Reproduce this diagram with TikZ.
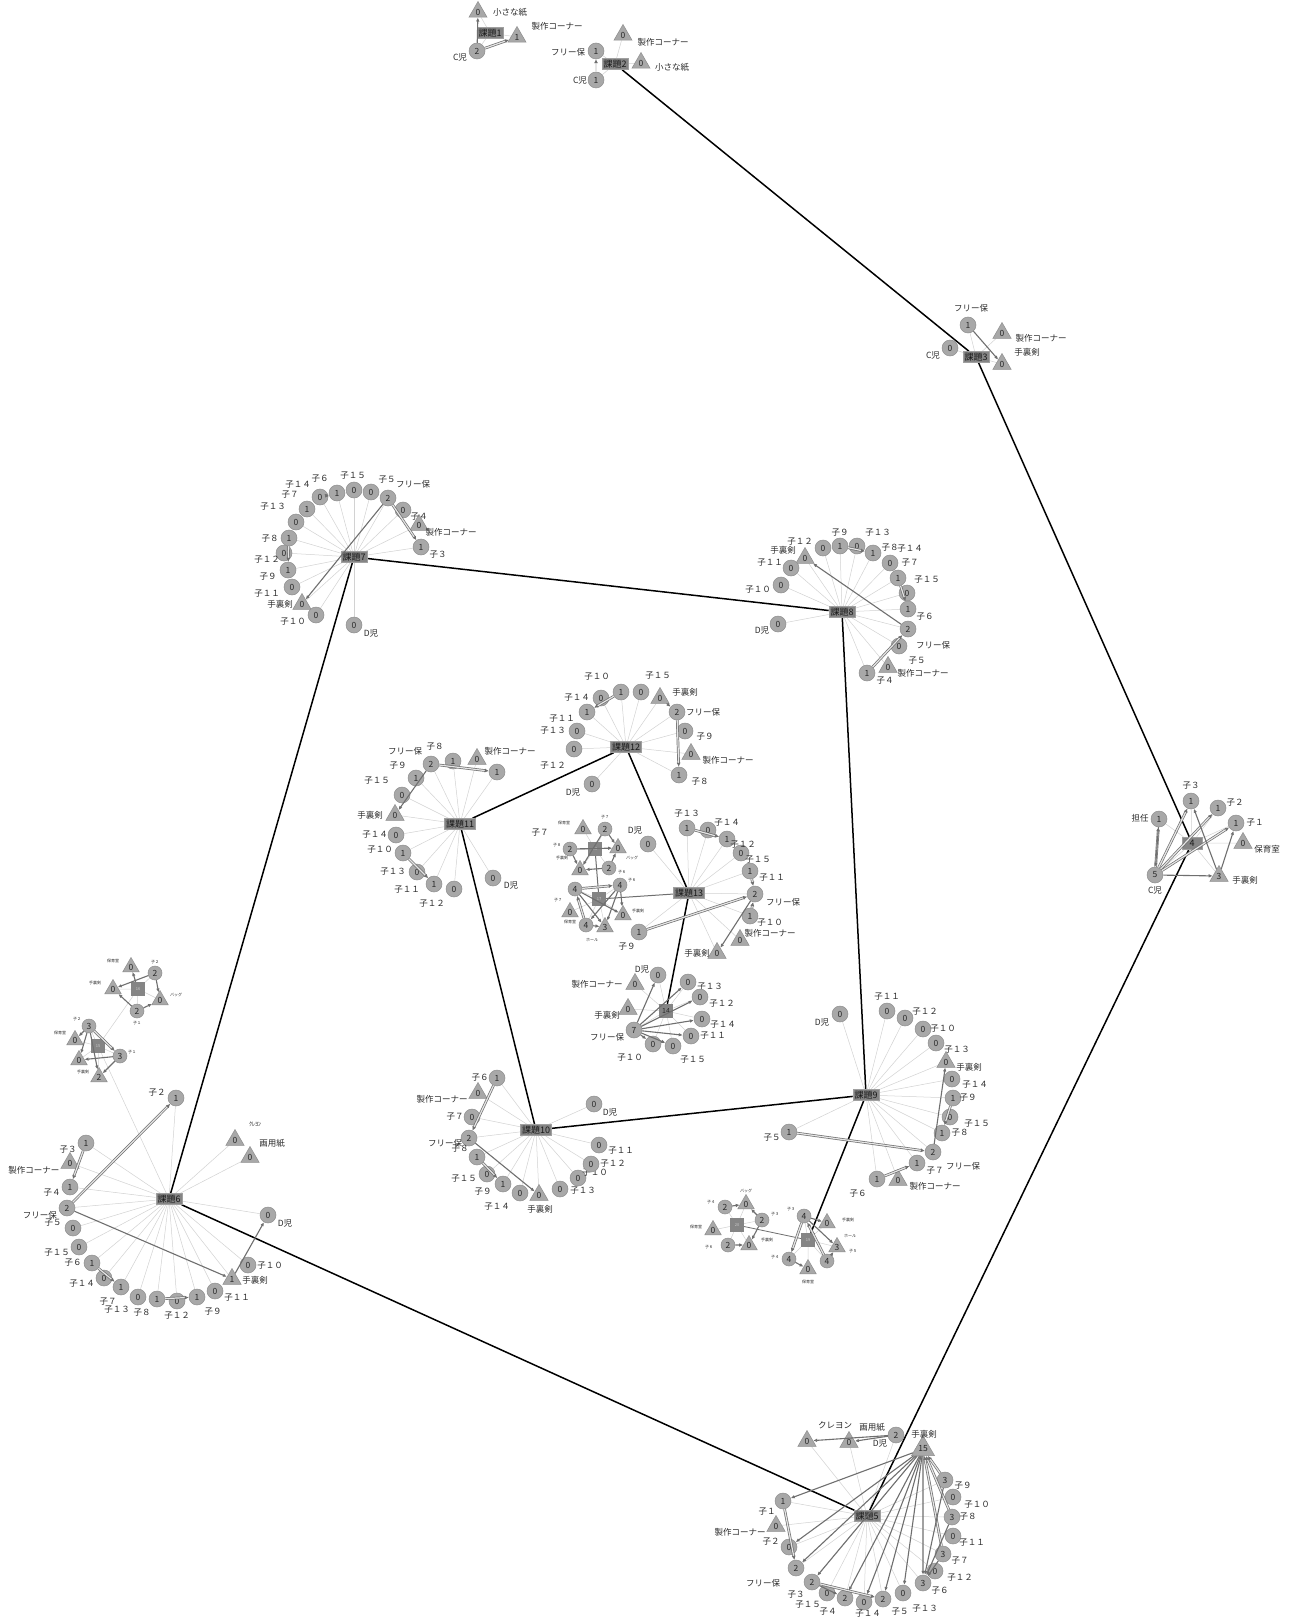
\documentclass[tikz,border=0pt]{standalone}
\usepackage{fontspec}
\setmainfont{Noto Sans CJK JP}
\usetikzlibrary{shapes.geometric,arrows.meta,backgrounds}
\definecolor{nfill}{HTML}{A8A8A8}
\definecolor{ndraw}{HTML}{8E8E8E}
\definecolor{tfill}{HTML}{858585}
\definecolor{tdraw}{HTML}{A0A0A0}
\definecolor{ltc}{HTML}{D2D2D2}
\definecolor{arc}{HTML}{6F6F6F}
\definecolor{txt}{HTML}{2A2A2A}
\tikzset{
 cn/.style={circle, fill=nfill, draw=ndraw, line width=0.5pt, minimum size=16pt, inner sep=0pt, font=\fontsize{8.5}{9}\selectfont, text=txt},
 tn/.style={regular polygon, regular polygon sides=3, fill=nfill, draw=ndraw, line width=0.5pt, minimum size=21pt, inner sep=0pt, font=\fontsize{8.5}{9}\selectfont, text=txt},
 lb/.style={inner sep=0pt, font=\fontsize{8.5}{9}\selectfont, text=txt},
 tl/.style={inner sep=0pt, font=\fontsize{4}{4}\selectfont, text=txt},
 task/.style={rectangle, fill=tfill, draw=tdraw, line width=0.6pt, inner xsep=1.5pt, inner ysep=1.5pt, font=\fontsize{9}{9.5}\selectfont, text=black!90},
 mrect/.style={rectangle, fill=tfill, minimum size=14pt, inner sep=0pt, font=\fontsize{4}{4}\selectfont, text=gray!40},
 lt/.style={draw=ltc, line width=0.5pt},
 ar/.style={draw=arc, line width=1.1pt, -{Latex[length=4pt,width=3.5pt]}},
 db/.style={draw=arc, line width=0.7pt, double=gray!20, double distance=1.2pt, -{Latex[length=4pt,width=4pt]}},
 conn/.style={draw=black, line width=1.5pt},
}
\newcommand\ndC[5]{\node[cn] (#1) at (#2) {#3}; \node[lb] (#1l) at (#4) {#5};}
\newcommand\ndT[5]{\node[tn] (#1) at (#2) {#3}; \node[lb] (#1l) at (#4) {#5};}
\newcommand\ndCs[5]{\node[cn, minimum size=14pt] (#1) at (#2) {#3}; \node[tl] (#1l) at (#4) {#5};}
\newcommand\ndTs[5]{\node[tn, minimum size=19pt] (#1) at (#2) {#3}; \node[tl] (#1l) at (#4) {#5};}
\begin{document}
\begin{tikzpicture}[x=1pt,y=-1pt]
\path[use as bounding box] (0,0) rectangle (1297,1621);

% ---------- cluster 1
\node[task] (t1) at (490,33) {課題1};
\ndT{a1}{478,12}{0}{510,12}{小さな紙}
\ndC{a2}{477,51}{2}{460,57}{C児}
\ndT{a3}{517,37}{1}{557,26}{製作コーナー}
% ---------- cluster 2
\node[task] (t2) at (615,64) {課題2};
\ndC{b1}{596,51}{1}{568,52}{フリー保}
\ndC{b2}{596,80}{1}{580,80}{C児}
\ndT{b3}{623,35}{0}{663,42}{製作コーナー}
\ndT{b4}{641,63}{0}{672,67}{小さな紙}
% ---------- cluster 3
\node[task] (t3) at (976,357) {課題3};
\ndC{c1}{968,325}{1}{971,308}{フリー保}
\ndC{c2}{950,348}{0}{933,355}{C児}
\ndT{c3}{1002,333}{0}{1041,338}{製作コーナー}
\ndT{c4}{1002,364}{0}{1027,352}{手裏剣}
% ---------- cluster 4
\node[task, minimum width=20pt, minimum height=12pt] (t4) at (1192,843) {4};
\ndC{d1}{1191,801}{1}{1191,786}{子３}
\ndC{d2}{1218,808}{1}{1235,803}{子２}
\ndC{d3}{1236,823}{1}{1255,823}{子１}
\ndC{d4}{1159,819}{1}{1140,818}{担任}
\ndT{d5}{1243,843}{0}{1267,849}{保育室}
\ndC{d6}{1155,875}{5}{1155,890}{C児}
\ndT{d7}{1219,876}{3}{1245,880}{手裏剣}
% ---------- cluster 5
\node[task] (t5) at (867,1516) {課題5};
\ndT{e1}{807,1441}{0}{835,1425}{クレヨン}
\ndT{e2}{849,1442}{0}{872,1427}{画用紙}
\ndC{e3}{896,1435}{2}{880,1443}{D児}
\ndT{e4}{923,1449}{15}{924,1434}{手裏剣}
\ndC{e5}{783,1501}{1}{767,1512}{子１}
\ndT{e6}{776,1526}{0}{740,1532}{製作コーナー}
\ndC{e7}{789,1547}{0}{771,1542}{子２}
\ndC{e8}{796,1568}{2}{763,1583}{フリー保}
\ndC{e9}{812,1582}{2}{796,1595}{子３}
\ndC{e10}{827,1593}{0}{808,1605}{子１５}
\ndC{e11}{845,1598}{2}{828,1612}{子４}
\ndC{e12}{864,1602}{0}{868,1614}{子１４}
\ndC{e13}{883,1599}{2}{900,1612}{子５}
\ndC{e14}{903,1593}{0}{925,1609}{子１３}
\ndC{e15}{923,1583}{3}{940,1591}{子６}
\ndC{e16}{935,1571}{0}{960,1578}{子１２}
\ndC{e17}{943,1554}{3}{960,1561}{子７}
\ndC{e18}{953,1536}{0}{972,1543}{子１１}
\ndC{e19}{952,1517}{3}{968,1517}{子８}
\ndC{e20}{953,1497}{0}{977,1505}{子１０}
\ndC{e21}{945,1480}{3}{963,1486}{子９}
% ---------- cluster 6
\node[task] (t6) at (169,1199) {課題6};
\ndC{f1}{176,1098}{1}{157,1093}{子２}
\node[tn] (f2) at (235,1140) {0}; \node[tl, font=\fontsize{6}{6}\selectfont] (f2l) at (255,1124) {ｸﾚﾖﾝ};
\ndT{f3}{250,1157}{0}{272,1143}{画用紙}
\ndC{f4}{86,1143}{1}{68,1150}{子３}
\ndT{f5}{70,1163}{0}{34,1170}{製作コーナー}
\ndC{f6}{70,1187}{1}{52,1193}{子４}
\ndC{f7}{67,1208}{2}{40,1215}{フリー保}
\ndC{f8}{73,1228}{0}{53,1223}{子５}
\ndC{f9}{79,1247}{0}{57,1253}{子１５}
\ndC{f10}{92,1263}{1}{73,1263}{子６}
\ndC{f11}{104,1278}{0}{82,1284}{子１４}
\ndC{f12}{121,1287}{1}{108,1302}{子７}
\ndC{f13}{138,1297}{0}{117,1310}{子１３}
\ndC{f14}{157,1299}{1}{142,1313}{子８}
\ndC{f15}{177,1301}{0}{177,1316}{子１２}
\ndC{f16}{197,1297}{1}{213,1312}{子９}
\ndC{f17}{215,1291}{0}{237,1298}{子１１}
\ndT{f18}{232,1279}{1}{255,1280}{手裏剣}
\ndC{f19}{248,1265}{0}{270,1266}{子１０}
\ndC{f20}{268,1215}{0}{285,1223}{D児}
% ---------- mini graphs 16 / 15
\node[mrect] (g16) at (138,989) {16};
\ndTs{h1}{131,967}{0}{113,961}{保育室}
\ndCs{h2}{155,973}{2}{155,962}{子２}
\ndTs{h3}{113,989}{0}{95,983}{手裏剣}
\ndTs{h4}{160,1000}{0}{176,995}{バッグ}
\ndCs{h5}{137,1011}{2}{137,1023}{子１}
\node[mrect] (g15) at (98,1046) {15};
\ndCs{i1}{89,1026}{3}{77,1019}{子２}
\ndTs{i2}{75,1040}{0}{60,1033}{保育室}
\ndCs{i3}{120,1056}{3}{132,1052}{子１}
\ndTs{i4}{79,1060}{0}{83,1072}{手裏剣}
\node[tn, minimum size=19pt] (i5) at (99,1077) {2};
% ---------- cluster 7
\node[task] (t7) at (354,557) {課題7};
\node[cn] (j1) at (320,497) {0};
\node[cn] (j2) at (337,493) {1};
\node[cn] (j3) at (354,490) {0};
\node[cn] (j4) at (371,492) {0};
\node[cn] (j5) at (388,498) {2};
\node[cn] (j6) at (403,510) {0};
\node[tn] (j7) at (419,525) {0};
\node[cn] (j8) at (421,547) {1};
\node[cn] (j9) at (307,509) {1};
\node[cn] (j10) at (296,522) {0};
\node[cn] (j11) at (289,538) {1};
\node[cn] (j12) at (284,553) {0};
\node[cn] (j13) at (288,570) {1};
\node[cn] (j14) at (292,587) {0};
\node[tn] (j15) at (302,604) {0};
\node[cn] (j16) at (316,615) {0};
\node[cn] (j17) at (354,625) {0};
\node[lb] (jl1) at (298,485) {子１４};
\node[lb] (jl2) at (320,479) {子６};
\node[lb] (jl3) at (290,495) {子７};
\node[lb] (jl4) at (273,507) {子１３};
\node[lb] (jl5) at (353,476) {子１５};
\node[lb] (jl6) at (387,480) {子５};
\node[lb] (jl7) at (413,484) {フリー保};
\node[lb] (jl8) at (419,517) {子４};
\node[lb] (jl9) at (451,532) {製作コーナー};
\node[lb] (jl10) at (438,555) {子３};
\node[lb] (jl11) at (270,539) {子８};
\node[lb] (jl12) at (267,560) {子１２};
\node[lb] (jl13) at (268,577) {子９};
\node[lb] (jl14) at (267,594) {子１１};
\node[lb] (jl15) at (280,604) {手裏剣};
\node[lb] (jl16) at (293,622) {子１０};
\node[lb] (jl17) at (371,633) {D児};
% ---------- cluster 8
\node[task] (t8) at (842,612) {課題8};
\ndT{k1}{805,558}{0}{783,550}{手裏剣}
\ndC{k2}{823,548}{0}{800,542}{子１２}
\ndC{k3}{840,546}{1}{840,533}{子９}
\ndC{k4}{857,546}{0}{878,533}{子１３}
\ndC{k5}{873,553}{1}{890,548}{子８}
\ndC{k6}{890,563}{0}{910,563}{子７}
\ndC{k7}{898,578}{1}{927,580}{子１５}
\node[cn] (k8) at (907,593) {0}; \node[lb] (k8l) at (910,549) {子１４};
\ndC{k9}{908,609}{1}{925,617}{子６}
\node[cn] (k10) at (908,629) {2};
\ndC{k11}{899,646}{0}{933,645}{フリー保}
\ndT{k12}{888,667}{0}{923,673}{製作コーナー}
\node[lb] (k12m) at (917,661) {子５};
\ndC{k13}{867,673}{1}{885,681}{子４}
\ndC{k14}{791,568}{0}{770,563}{子１１}
\ndC{k15}{781,585}{0}{758,590}{子１０}
\ndC{k16}{778,624}{0}{762,630}{D児}
% ---------- cluster 9
\node[task] (t9) at (866,1095) {課題9};
\ndC{m1}{840,1014}{0}{822,1022}{D児}
\ndC{m2}{887,1011}{0}{887,997}{子１１}
\ndC{m3}{905,1018}{0}{925,1012}{子１２}
\ndC{m4}{923,1029}{0}{943,1029}{子１０}
\ndC{m5}{936,1043}{0}{957,1050}{子１３}
\ndT{m6}{946,1062}{0}{969,1067}{手裏剣}
\ndC{m7}{952,1079}{0}{975,1085}{子１４}
\ndC{m8}{953,1098}{1}{968,1098}{子９}
\ndC{m9}{950,1117}{0}{977,1124}{子１５}
\ndC{m10}{942,1133}{1}{960,1133}{子８}
\node[cn] (m11) at (933,1152) {2};
\ndC{m12}{917,1163}{1}{935,1171}{子７}
\node[lb] (m12f) at (963,1166) {フリー保};
\ndT{m13}{898,1180}{0}{935,1186}{製作コーナー}
\ndC{m14}{877,1179}{1}{858,1194}{子６}
\ndC{m15}{789,1132}{1}{772,1138}{子５}
% ---------- cluster 14
\node[mrect, font=\fontsize{7}{7}\selectfont, text=txt] (t14) at (666,1011) {14};
\ndC{n1}{658,975}{0}{642,969}{D児}
\ndT{n2}{635,984}{0}{597,984}{製作コーナー}
\ndC{n3}{688,982}{0}{710,987}{子１３}
\ndC{n4}{700,997}{0}{722,1004}{子１２}
\ndT{n5}{628,1009}{0}{607,1015}{手裏剣}
\ndC{n6}{702,1019}{0}{723,1025}{子１４}
\ndC{n7}{634,1030}{7}{607,1037}{フリー保}
\ndC{n8}{691,1036}{0}{713,1036}{子１１}
\ndC{n9}{653,1044}{0}{630,1058}{子１０}
\ndC{n10}{673,1046}{0}{693,1060}{子１５}
% ---------- cluster 10
\node[task] (t10) at (536,1130) {課題10};
\ndC{p1}{497,1078}{1}{480,1078}{子６}
\ndT{p2}{478,1093}{0}{442,1099}{製作コーナー}
\ndC{p3}{472,1117}{0}{455,1117}{子７}
\ndC{p4}{469,1138}{2}{445,1143}{フリー保}
\ndC{p5}{477,1157}{1}{460,1149}{子８}
\ndC{p6}{487,1174}{0}{464,1179}{子１５}
\ndC{p7}{503,1184}{1}{483,1192}{子９}
\ndC{p8}{520,1193}{0}{497,1207}{子１４}
\ndT{p9}{539,1195}{0}{540,1209}{手裏剣}
\ndC{p10}{560,1189}{0}{583,1191}{子１３}
\ndC{p11}{578,1178}{0}{595,1173}{子１０}
\ndC{p12}{591,1164}{0}{613,1164}{子１２}
\ndC{p13}{599,1145}{0}{621,1151}{子１１}
\ndC{p14}{594,1104}{0}{610,1112}{D児}
% ---------- cluster 11
\node[task] (t11) at (460,824) {課題11};
\ndC{q1}{431,764}{2}{405,751}{フリー保}
\ndC{q2}{453,761}{1}{435,747}{子８}
\ndT{q3}{477,759}{0}{510,751}{製作コーナー}
\node[cn] (q4) at (497,772) {1};
\ndC{q5}{416,778}{1}{398,766}{子９}
\ndC{q6}{402,795}{0}{377,781}{子１５}
\ndT{q7}{395,815}{0}{370,815}{手裏剣}
\ndC{q8}{396,835}{0}{375,835}{子１４}
\ndC{q9}{403,853}{1}{380,850}{子１０}
\ndC{q10}{417,872}{0}{393,872}{子１３}
\ndC{q11}{434,884}{1}{407,890}{子１１}
\ndC{q12}{454,889}{0}{432,904}{子１２}
\ndC{q13}{493,878}{0}{511,885}{D児}
% ---------- cluster 12
\node[task] (t12) at (626,747) {課題12};
\ndC{r1}{601,698}{0}{577,698}{子１４}
\ndC{r2}{621,692}{1}{597,677}{子１０}
\ndC{r3}{641,692}{0}{658,676}{子１５}
\ndT{r4}{660,698}{0}{685,692}{手裏剣}
\ndC{r5}{677,712}{2}{703,712}{フリー保}
\ndC{r6}{587,712}{1}{562,719}{子１１}
\ndC{r7}{577,731}{0}{553,731}{子１３}
\ndC{r8}{685,731}{0}{705,737}{子９}
\ndC{r9}{574,749}{0}{553,766}{子１２}
\ndT{r10}{691,754}{0}{728,760}{製作コーナー}
\ndC{r11}{679,775}{1}{700,782}{子８}
\ndC{r12}{592,784}{0}{573,792}{D児}
% ---------- cluster 13
\node[task] (t13) at (689,893) {課題13};
\ndC{s1}{687,828}{1}{687,814}{子１３}
\ndC{s2}{708,830}{0}{727,823}{子１４}
\node[cn] (s3) at (727,839) {1};
\ndC{s4}{741,853}{0}{743,845}{子１２}
\ndC{s5}{750,871}{1}{758,860}{子１５}
\ndC{s6}{755,894}{2}{772,878}{子１１}
\node[lb] (s6f) at (783,902) {フリー保};
\ndC{s7}{750,916}{1}{770,923}{子１０}
\ndT{s8}{740,940}{0}{770,933}{製作コーナー}
\ndT{s9}{717,953}{0}{697,953}{手裏剣}
\ndC{s10}{639,932}{1}{627,947}{子９}
\ndC{s11}{648,844}{0}{635,830}{D児}
\node[lb] (s12l) at (540,833) {子７};
% ---------- mini graph upper / lower (middle)
\node[mrect] (u0) at (595,849) {18};
\ndTs{u1}{583,829}{0}{564,823}{保育室}
\ndCs{u2}{605,829}{2}{605,817}{子７}
\ndCs{u3}{570,849}{2}{557,845}{子８}
\node[tl] (u3m) at (562,858) {手裏剣};
\ndTs{u4}{618,848}{0}{632,858}{バッグ}
\ndCs{u5}{609,868}{2}{622,872}{子６}
\node[tn, minimum size=19pt] (u6) at (580,870) {0};
\node[mrect] (v0) at (599,899) {17};
\node[cn, minimum size=14pt] (v1) at (575,889) {4};
\ndCs{v2}{620,885}{4}{632,880}{子６}
\ndTs{v3}{570,912}{0}{558,900}{子７}
\ndCs{v4}{586,925}{4}{570,922}{保育室}
\ndTs{v5}{605,927}{3}{592,940}{ホール}
\ndTs{v6}{623,915}{0}{638,911}{手裏剣}
% ---------- mini graph bottom
\node[mrect] (w0) at (737,1225) {20};
\ndCs{w1}{725,1207}{2}{711,1202}{子４}
\ndTs{w2}{746,1204}{0}{746,1191}{バッグ}
\ndCs{w3}{762,1220}{2}{775,1214}{子３}
\ndTs{w4}{713,1230}{0}{696,1227}{保育室}
\ndCs{w5}{728,1245}{2}{709,1247}{子６}
\ndTs{w6}{749,1245}{0}{767,1240}{手裏剣}
\node[mrect] (x0) at (808,1240) {19};
\ndCs{x1}{804,1216}{4}{791,1209}{子３}
\ndTs{x2}{827,1223}{0}{848,1220}{手裏剣}
\ndTs{x3}{837,1247}{3}{853,1251}{子５}
\node[tl] (x3h) at (850,1236) {ホール};
\ndCs{x4}{789,1259}{4}{775,1257}{子４}
\ndTs{x5}{808,1269}{0}{808,1282}{保育室}
\node[cn, minimum size=14pt] (x6) at (827,1261) {4};

% ================= background edges
\begin{pgfonlayer}{background}
\fill[white] (0,0) rectangle (1297,1621);
\foreach \n in {a1,a2,a3} \draw[lt] (t1) -- (\n);
\foreach \n in {b1,b2,b3,b4} \draw[lt] (t2) -- (\n);
\foreach \n in {c1,c2,c3,c4} \draw[lt] (t3) -- (\n);
\foreach \n in {d1,d2,d3,d4,d5,d6,d7} \draw[lt] (t4) -- (\n);
\foreach \n in {e1,e2,e3,e4,e5,e6,e7,e8,e9,e10,e11,e12,e13,e14,e15,e16,e17,e18,e19,e20,e21} \draw[lt] (t5) -- (\n);
\foreach \n in {f1,f2,f3,f4,f5,f6,f7,f8,f9,f10,f11,f12,f13,f14,f15,f16,f17,f18,f19,f20,g15} \draw[lt] (t6) -- (\n);
\foreach \n in {h1,h2,h3,h4,h5,g15} \draw[lt] (g16) -- (\n);
\foreach \n in {i1,i2,i3,i4,i5} \draw[lt] (g15) -- (\n);
\foreach \n in {j1,j2,j3,j4,j5,j6,j7,j8,j9,j10,j11,j12,j13,j14,j15,j16,j17} \draw[lt] (t7) -- (\n);
\foreach \n in {k1,k2,k3,k4,k5,k6,k7,k8,k9,k10,k11,k12,k13,k14,k15,k16} \draw[lt] (t8) -- (\n);
\foreach \n in {m1,m2,m3,m4,m5,m6,m7,m8,m9,m10,m11,m12,m13,m14,m15} \draw[lt] (t9) -- (\n);
\foreach \n in {n1,n2,n3,n4,n5,n6,n7,n8,n9,n10} \draw[lt] (t14) -- (\n);
\foreach \n in {p1,p2,p3,p4,p5,p6,p7,p8,p9,p10,p11,p12,p13,p14} \draw[lt] (t10) -- (\n);
\foreach \n in {q1,q2,q3,q4,q5,q6,q7,q8,q9,q10,q11,q12,q13} \draw[lt] (t11) -- (\n);
\foreach \n in {r1,r2,r3,r4,r5,r6,r7,r8,r9,r10,r11,r12} \draw[lt] (t12) -- (\n);
\foreach \n in {s1,s2,s3,s4,s5,s6,s7,s8,s9,s10,s11} \draw[lt] (t13) -- (\n);
\foreach \n in {u1,u2,u3,u4,u5,u6} \draw[lt] (u0) -- (\n);
\foreach \n in {v1,v2,v3,v4,v5,v6} \draw[lt] (v0) -- (\n);
\foreach \n in {w1,w2,w3,w4,w5,w6} \draw[lt] (w0) -- (\n);
\foreach \n in {x1,x2,x3,x4,x5,x6} \draw[lt] (x0) -- (\n);
% task connectors
\draw[conn] (t2) -- (t3);
\draw[conn] (t3) -- (t4);
\draw[conn] (t4) -- (t5);
\draw[conn] (t5) -- (t6);
\draw[conn] (t6) -- (t7);
\draw[conn] (t7) -- (t8);
\draw[conn] (t8) -- (t9);
\draw[conn] (t9) -- (t10);
\draw[conn] (t10) -- (t11);
\draw[conn] (t11) -- (t12);
\draw[conn] (t12) -- (t13);
\draw[conn] (t13) -- (t14);
\draw[conn] (t9) -- (x0);
\draw[draw=arc, line width=1pt] (t13) -- (v0);
\draw[draw=arc, line width=1pt] (u0) -- (v0);
\draw[draw=arc, line width=0.8pt] (w0) -- (x0);
\end{pgfonlayer}

% ================= dark arrows
\draw[ar] (a2) -- (a1); \draw[db] (a2) -- (a3);
\draw[db] (b2) -- (b1);
\draw[ar] (c1) -- (c4);
\foreach \n in {d1,d2,d3,d4} \draw[db] (d6) -- (\n);
\draw[ar] (d6) -- (d7); \draw[ar] (d7) -- (d1); \draw[ar] (d7) -- (d3); \draw[ar] (d4) -- (d6);
\draw[ar] (e3) -- (e1); \draw[ar] (e3) -- (e2);
\foreach \n in {e5,e7,e8,e9,e11,e12,e13,e14,e15} \draw[ar] (e4) -- (\n);
\foreach \n in {e17,e19,e21} \draw[db] (\n) -- (e4);
\foreach \n in {e17,e19,e21} \draw[ar] (\n) -- (e15);
\draw[db] (e5) -- (e8); \draw[db] (e9) -- (e13); \draw[ar] (e9) -- (e11);
\draw[db] (f7) -- (f1); \draw[db] (f4) -- (f6); \draw[ar] (f7) -- (f18); \draw[ar] (f18) -- (f20);
\draw[db] (f10) -- (f12); \draw[db] (f14) -- (f16);
\draw[ar] (h2) -- (h3); \draw[ar] (h2) -- (h4); \draw[ar] (h5) -- (h3); \draw[ar] (h5) -- (h4); \draw[ar] (g16) -- (h1);
\draw[db] (i1) -- (i3); \draw[ar] (i1) -- (i4); \draw[ar] (i3) -- (i4); \draw[ar] (i3) -- (i5); \draw[ar] (i1) -- (i5); \draw[ar] (i1) -- (i2);
\draw[db] (j1) -- (j2); \draw[db] (j5) -- (j8); \draw[ar] (j5) -- (j15); \draw[db] (j11) -- (j13);
\draw[db] (k3) -- (k5); \draw[db] (k7) -- (k9); \draw[ar] (k10) -- (k1); \draw[db] (k13) -- (k10);
\draw[ar] (m11) -- (m6); \draw[db] (m8) -- (m10); \draw[db] (m15) -- (m11); \draw[db] (m14) -- (m12);
\foreach \n in {n1,n3,n4,n6,n8,n9,n10} \draw[ar] (n7) -- (\n);
\draw[db] (p1) -- (p4); \draw[ar] (p4) -- (p9); \draw[db] (p5) -- (p7);
\draw[db] (q1) -- (q4); \draw[ar] (q1) -- (q7); \draw[db] (q9) -- (q11);
\draw[db] (r2) -- (r6); \draw[ar] (r4) -- (r5); \draw[db] (r5) -- (r11);
\draw[db] (s1) -- (s3); \draw[db] (s5) -- (s6); \draw[db] (s7) -- (s6); \draw[db] (s10) -- (s6); \draw[ar] (s6) -- (s9);
\draw[ar] (u3) -- (u4); \draw[ar] (u2) -- (u4); \draw[ar] (u5) -- (u4); \draw[ar] (u5) -- (u6); \draw[ar] (u3) -- (u6); \draw[ar] (u2) -- (u6);
\draw[db] (v1) -- (v2); \draw[ar] (v1) -- (v6); \draw[ar] (v2) -- (v4); \draw[ar] (v2) -- (v5); \draw[db] (v4) -- (v1); \draw[ar] (v4) -- (v5); \draw[ar] (v1) -- (v5); \draw[ar] (v2) -- (v6);
\draw[ar] (w1) -- (w2); \draw[ar] (w3) -- (w2); \draw[ar] (w5) -- (w6); \draw[ar] (w3) -- (w6);
\draw[db] (x1) -- (x4); \draw[ar] (x1) -- (x2); \draw[ar] (x1) -- (x3); \draw[db] (x6) -- (x1); \draw[ar] (x4) -- (x5); \draw[ar] (x6) -- (x3);
\end{tikzpicture}
\end{document}
